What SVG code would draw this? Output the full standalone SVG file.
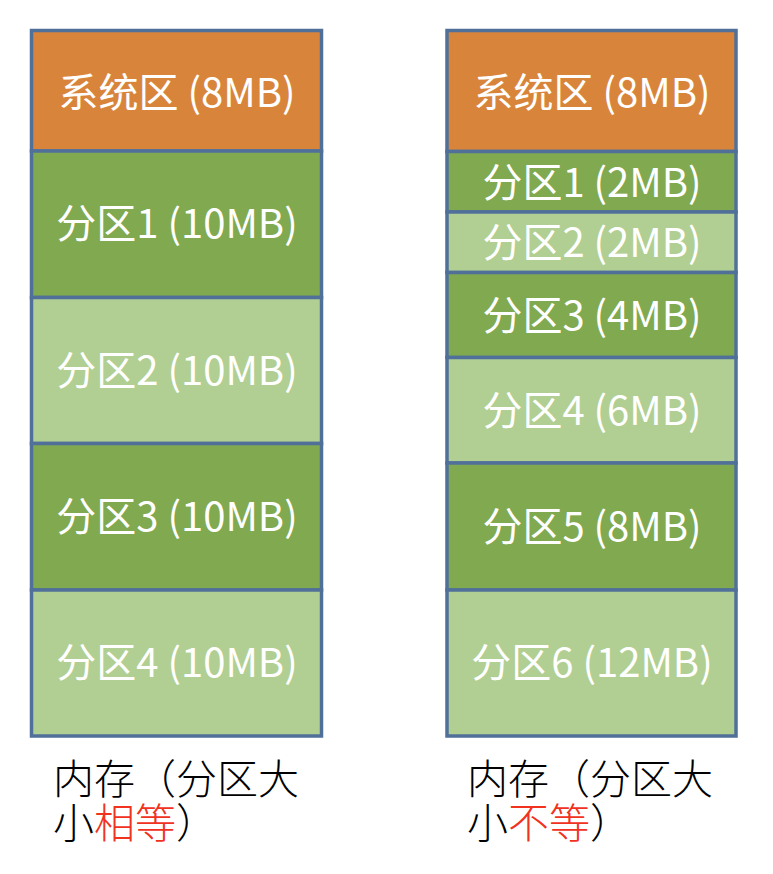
<svg xmlns="http://www.w3.org/2000/svg" width="773" height="874" viewBox="0 0 773 874">
<style>
  .blk { stroke: #50709a; stroke-width: 3.5; }
  .sys { fill: #d8853b; }
  .dk { fill: #80a950; }
  .lt { fill: #b1cf92; }
  .lbl { font-family: "Noto Sans CJK SC", "Noto Sans", sans-serif; font-size: 40px; fill: #ffffff; text-anchor: middle; }
  .cap { font-family: "Noto Sans CJK SC", sans-serif; font-size: 41px; fill: #000000; font-weight: 300; }
  .red { fill: #f0321e; }
</style>
<rect width="773" height="874" fill="#ffffff"/>
<g id="left-memory">
  <g id="L-sys"><rect class="blk sys" x="31.5" y="30.5" width="290" height="120.5"/><text class="lbl" x="177" y="107">系统区 (8MB)</text></g>
  <g id="L-p1"><rect class="blk dk" x="31.5" y="151" width="290" height="146.5"/><text class="lbl" x="177" y="238">分区1 (10MB)</text></g>
  <g id="L-p2"><rect class="blk lt" x="31.5" y="297.5" width="290" height="146"/><text class="lbl" x="177" y="385">分区2 (10MB)</text></g>
  <g id="L-p3"><rect class="blk dk" x="31.5" y="443.5" width="290" height="146.5"/><text class="lbl" x="177" y="531">分区3 (10MB)</text></g>
  <g id="L-p4"><rect class="blk lt" x="31.5" y="590" width="290" height="146"/><text class="lbl" x="177" y="677">分区4 (10MB)</text></g>
</g>
<g id="right-memory">
  <g id="R-sys"><rect class="blk sys" x="447" y="30.5" width="289" height="121"/><text class="lbl" x="592" y="107">系统区 (8MB)</text></g>
  <g id="R-p1"><rect class="blk dk" x="447" y="151.5" width="289" height="60.5"/><text class="lbl" x="592" y="197">分区1 (2MB)</text></g>
  <g id="R-p2"><rect class="blk lt" x="447" y="212" width="289" height="60.5"/><text class="lbl" x="592" y="257">分区2 (2MB)</text></g>
  <g id="R-p3"><rect class="blk dk" x="447" y="272.5" width="289" height="85"/><text class="lbl" x="592" y="330">分区3 (4MB)</text></g>
  <g id="R-p4"><rect class="blk lt" x="447" y="357.5" width="289" height="105.5"/><text class="lbl" x="592" y="425">分区4 (6MB)</text></g>
  <g id="R-p5"><rect class="blk dk" x="447" y="463" width="289" height="127"/><text class="lbl" x="592" y="541">分区5 (8MB)</text></g>
  <g id="R-p6"><rect class="blk lt" x="447" y="590" width="289" height="146"/><text class="lbl" x="592" y="677">分区6 (12MB)</text></g>
</g>
<g id="captions">
  <text class="cap" x="53" y="794">内存（分区大<tspan x="53" dy="44">小</tspan><tspan class="red">相等</tspan>）</text>
  <text class="cap" x="467" y="794">内存（分区大<tspan x="467" dy="44">小</tspan><tspan class="red">不等</tspan>）</text>
</g>
</svg>
